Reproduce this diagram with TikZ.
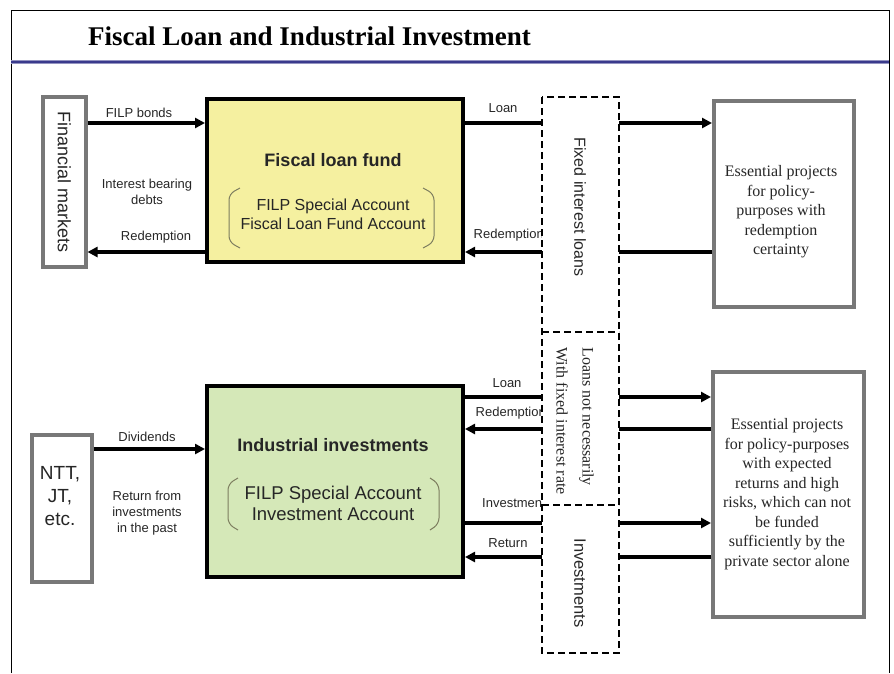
\documentclass[tikz,border=0pt]{standalone}
\usepackage{fontspec}
\setmainfont{Liberation Serif}
\setsansfont{Liberation Sans}
\usetikzlibrary{arrows.meta,positioning}

\definecolor{fundyellow}{RGB}{245,240,160}
\definecolor{investgreen}{RGB}{213,232,184}
\definecolor{titleblue}{RGB}{58,58,140}
\definecolor{framegray}{RGB}{120,120,120}
\definecolor{parencol}{RGB}{125,125,95}

\newcommand{\fs}[2]{\fontsize{#1}{#2}\selectfont}

\begin{document}
\begin{tikzpicture}[x=1pt, y=-1pt,
    every node/.style={inner sep=0pt, font=\sffamily\fs{13}{16}, text=black!85},
    flow/.style={line width=3.2pt},
    tip/.style={-{Triangle[length=10pt,width=10pt]}},
    mainbox/.style={draw=black, line width=4pt, anchor=north west},
    sidebox/.style={draw=framegray, line width=3.5pt, fill=white, anchor=north west},
    dashfill/.style={fill=white, anchor=north west, outer sep=0pt},
    dashline/.style={draw=black, line width=1.6pt, dash pattern=on 7pt off 4pt},
    paren/.style={draw=parencol, line width=1pt, rounded corners=6pt},
    projtext/.style={font=\rmfamily\fs{16}{19.5}, align=center}
]
\useasboundingbox (0,0) rectangle (894,673);

% frame and title
\draw[line width=0.8pt] (11,673) -- (11,10) -- (889,10) -- (889,673);
\draw[line width=4.5pt, titleblue!55] (11,62) -- (889,62);
\draw[line width=2.4pt, titleblue] (11,62) -- (889,62);
\node[anchor=base west, font=\rmfamily\bfseries\fs{27}{30}, text=black] (title) at (88,45)
    {Fiscal Loan and Industrial Investment};

% rows of the flows
\coordinate (r1) at (0,123);
\coordinate (r2) at (0,252);
\coordinate (rd) at (0,449);
\coordinate (r3) at (0,397);
\coordinate (r4) at (0,429);
\coordinate (r5) at (0,523);
\coordinate (r6) at (0,557);

% labels (drawn first, the dashed boxes cover their ends)
\node at (139,113) {FILP bonds};
\node[align=center] at (147,192) {Interest bearing\\debts};
\node at (156,237) {Redemption};
\node at (503,108) {Loan};
\node[anchor=east] at (544,235) {Redemption};
\node at (147,437) {Dividends};
\node[align=center] at (147,513) {Return from\\investments\\in the past};
\node at (507,383) {Loan};
\node[anchor=east] at (546,413) {Redemption};
\node[anchor=east] at (546,503) {Investment};
\node at (508,543) {Return};

% boxes
\node[sidebox, minimum width=43, minimum height=170] (markets) at (41,95) {};
\node[rotate=-90, font=\sffamily\fs{18}{20}] at (markets.center) {Financial markets};

\node[mainbox, fill=fundyellow, minimum width=256, minimum height=163] (fund) at (205,97) {};
\node[font=\sffamily\bfseries\fs{18}{20}] at (333,160) {Fiscal loan fund};
\node[font=\sffamily\fs{16}{19}, align=center] at (333,214)
    {FILP Special Account\\Fiscal Loan Fund Account};
\draw[paren] (240,188) -- (229,194) -- (229,242) -- (240,248);
\draw[paren] (423,188) -- (434,194) -- (434,242) -- (423,248);

\node[sidebox, minimum width=60, minimum height=147] (ntt) at (30,433) {};
\node[font=\sffamily\fs{19}{23}, align=center] at (60,496) {NTT,\\JT,\\etc.};

\node[mainbox, fill=investgreen, minimum width=256, minimum height=191] (invest) at (205,384) {};
\node[font=\sffamily\bfseries\fs{18}{20}] at (333,445) {Industrial investments};
\node[font=\sffamily\fs{18.5}{21}, align=center] at (333,503)
    {FILP Special Account\\Investment Account};
\draw[paren] (238,478) -- (228,484) -- (228,524) -- (238,530);
\draw[paren] (430,478) -- (439,484) -- (439,524) -- (430,530);

% dashed column of the kinds of finance
\node[dashfill, minimum width=77, minimum height=235] (fixed) at (542,97) {};
\node[dashfill, minimum width=77, minimum height=173] (flexible) at (542,332) {};
\node[dashfill, minimum width=77, minimum height=148] (equity) at (542,505) {};
\draw[dashline] (fixed.north west) rectangle (equity.south east);
\draw[dashline] (flexible.north west) -- (flexible.north east);
\draw[dashline] (equity.north west) -- (equity.north east);
\node[rotate=-90, font=\sffamily\fs{16}{18}] at (580,207) {Fixed interest loans};
\node[rotate=-90, font=\rmfamily\fs{16}{26}, align=left] at (575,421)
    {Loans not necessarily\\With fixed interest rate};
\node[rotate=-90, font=\sffamily\fs{16.5}{18}] at (580,583) {Investments};

\node[sidebox, minimum width=140, minimum height=206] (policy) at (712,99) {};
\node[projtext] at (781,212)
    {Essential projects\\for policy-\\purposes with\\redemption\\certainty};
\node[sidebox, minimum width=151, minimum height=245] (risky) at (711,370) {};
\node[projtext] at (787,494)
    {Essential projects\\for policy-purposes\\with expected\\returns and high\\risks, which can not\\be funded\\sufficiently by the\\private sector alone};

% flows of the fiscal loan fund
\draw[flow, tip] (markets.east |- r1) -- (fund.west |- r1);
\draw[flow, tip] (fund.west |- r2) -- (markets.east |- r2);
\draw[flow] (fund.east |- r1) -- (fixed.west |- r1);
\draw[flow, tip] (fixed.east |- r1) -- (policy.west |- r1);
\draw[flow] (policy.west |- r2) -- (fixed.east |- r2);
\draw[flow, tip] (fixed.west |- r2) -- (fund.east |- r2);

% flows of the industrial investments
\draw[flow, tip] (ntt.east |- rd) -- (invest.west |- rd);
\draw[flow] (invest.east |- r3) -- (flexible.west |- r3);
\draw[flow, tip] (flexible.east |- r3) -- (risky.west |- r3);
\draw[flow] (risky.west |- r4) -- (flexible.east |- r4);
\draw[flow, tip] (flexible.west |- r4) -- (invest.east |- r4);
\draw[flow] (invest.east |- r5) -- (equity.west |- r5);
\draw[flow, tip] (equity.east |- r5) -- (risky.west |- r5);
\draw[flow] (risky.west |- r6) -- (equity.east |- r6);
\draw[flow, tip] (equity.west |- r6) -- (invest.east |- r6);
\end{tikzpicture}
\end{document}
